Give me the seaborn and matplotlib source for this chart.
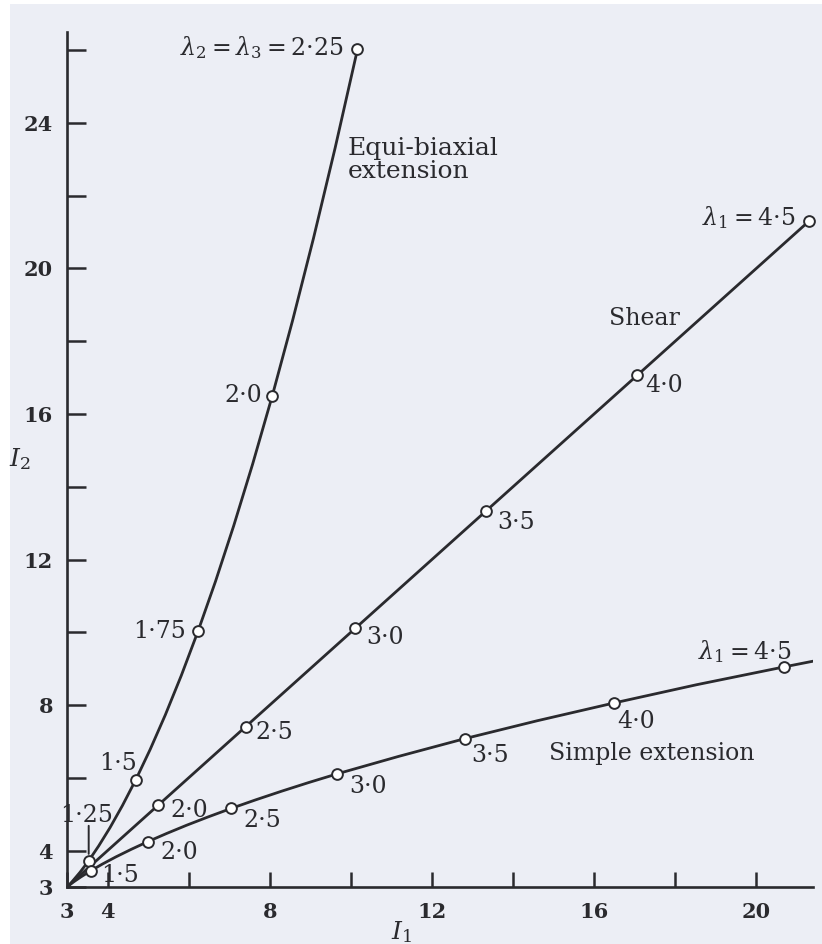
import matplotlib
matplotlib.use("Agg")
import matplotlib.pyplot as plt
from matplotlib.patches import Rectangle
import seaborn as sns

# ---- curves: I1, I2 invariants along each deformation path ----
equi_I1 = [3.0, 3.043, 3.103, 3.323, 3.535, 3.782, 4.061, 4.367, 4.698, 5.051,
           5.425, 5.819, 6.232, 6.663, 7.112, 7.579, 8.063, 8.563, 9.080, 9.614, 10.164]
equi_I2 = [3.0, 3.046, 3.117, 3.407, 3.721, 4.129, 4.632, 5.238, 5.951, 6.780,
           7.730, 8.812, 10.032, 11.401, 12.929, 14.625, 16.50, 18.566, 20.833, 23.316, 26.02]

shear_I1 = [3.0, 5.25, 7.41, 10.11, 13.33, 17.06, 21.30]
shear_I2 = [3.0, 5.25, 7.41, 10.11, 13.33, 17.06, 21.30]

simple_I1 = [3.0, 3.043, 3.163, 3.345, 3.583, 3.871, 4.205, 4.582, 5.0, 5.457,
             5.951, 6.483, 7.05, 7.653, 8.290, 8.961, 9.667, 11.18, 12.82,
             14.60, 16.5, 18.53, 20.69, 21.6]
simple_I2 = [3.0, 3.040, 3.140, 3.279, 3.444, 3.629, 3.827, 4.034, 4.25, 4.471,
             4.698, 4.927, 5.16, 5.395, 5.632, 5.871, 6.111, 6.59, 7.08,
             7.57, 8.06, 8.56, 9.05, 9.25]

# ---- marked stretch values ----
equi_pts_I1 = [3.535, 4.70, 6.23, 8.06, 10.16]
equi_pts_I2 = [3.72, 5.95, 10.03, 16.5, 26.02]
equi_labels = ["1·25", "1·5", "1·75", "2·0", r"$\lambda_2 = \lambda_3 = $2·25"]

shear_pts_I1 = [5.25, 7.41, 10.11, 13.33, 17.06, 21.30]
shear_pts_I2 = [5.25, 7.41, 10.11, 13.33, 17.06, 21.30]
shear_labels = ["2·0", "2·5", "3·0", "3·5", "4·0", r"$\lambda_1 = $4·5"]

simple_pts_I1 = [3.58, 5.0, 7.05, 9.67, 12.82, 16.5, 20.69]
simple_pts_I2 = [3.44, 4.25, 5.16, 6.11, 7.08, 8.06, 9.05]
simple_labels = ["1·5", "2·0", "2·5", "3·0", "3·5", "4·0", r"$\lambda_1 = $4·5"]

x_ticks = [3, 4, 6, 8, 10, 12, 14, 16, 18, 20]
x_ticklabels = ["3", "4", "", "8", "", "12", "", "16", "", "20"]
y_ticks = [3, 4, 6, 8, 10, 12, 14, 16, 18, 20, 22, 24, 26]
y_ticklabels = ["3", "4", "", "8", "", "12", "", "16", "", "20", "", "24", ""]

# ---- style ----
sns.set_theme(style="ticks")
plt.rcParams["font.family"] = ["DejaVu Serif"]
plt.rcParams["mathtext.fontset"] = "dejavuserif"

INK = "#2a2a2e"
PAPER = "#eceef5"

fig = plt.figure(figsize=(8.22, 9.44), dpi=100, facecolor="white")
fig.add_artist(Rectangle((10 / 822, 0), 1, 1 - 4 / 944, transform=fig.transFigure,
                         facecolor=PAPER, edgecolor="none", zorder=-10))
ax = fig.add_axes([67 / 822, 57 / 944, 746 / 822, 855 / 944])
ax.set_facecolor("none")

for xs, ys in [(equi_I1, equi_I2), (shear_I1, shear_I2), (simple_I1, simple_I2)]:
    sns.lineplot(x=xs, y=ys, sort=False, estimator=None, color=INK, lw=2.0, ax=ax)

for xs, ys in [(equi_pts_I1, equi_pts_I2), (shear_pts_I1, shear_pts_I2),
               (simple_pts_I1, simple_pts_I2)]:
    sns.scatterplot(x=xs, y=ys, marker="o", s=60, facecolor="white",
                    edgecolor=INK, linewidth=1.4, zorder=5, ax=ax, clip_on=False)

lab_kw = dict(textcoords="offset pixels", fontsize=17, color=INK, va="center")

# label offsets (pixels) and alignment per marker
equi_off = [(-2, 45, "center"), (1, 16, "right"), (-12, 0, "right"),
            (-10, 0, "right"), (-14, 2, "right")]
shear_off = [(12, -5, "left"), (10, -6, "left"), (11, -9, "left"),
             (11, -11, "left"), (8, -10, "left"), (-13, 4, "right")]
simple_off = [(11, -5, "left"), (12, -11, "left"), (12, -12, "left"),
              (12, -13, "left"), (6, -17, "left"), (3, -19, "left"), (7, 15, "right")]

for xs, ys, labels, offs in [
    (equi_pts_I1, equi_pts_I2, equi_labels, equi_off),
    (shear_pts_I1, shear_pts_I2, shear_labels, shear_off),
    (simple_pts_I1, simple_pts_I2, simple_labels, simple_off),
]:
    for x, y, lab, (dx, dy, ha) in zip(xs, ys, labels, offs):
        ax.annotate(lab, (x, y), xytext=(dx, dy), ha=ha, **lab_kw)

# leader line for the 1·25 label
ax.annotate("", (equi_pts_I1[0], equi_pts_I2[0]), xytext=(0, 35),
            textcoords="offset pixels",
            arrowprops=dict(arrowstyle="-", color=INK, lw=1.4, shrinkA=0, shrinkB=5))

ax.text(9.92, 22.97, "Equi-biaxial\nextension", fontsize=18, color=INK,
        ha="left", va="center", linespacing=1.0)
ax.text(16.37, 18.63, "Shear", fontsize=17, color=INK, ha="left", va="center")
ax.text(14.9, 6.68, "Simple extension", fontsize=17, color=INK, ha="left", va="center")

ax.set_xlim(3, 21.4)
ax.set_ylim(3, 26.5)
ax.set_xticks(x_ticks)
ax.set_xticklabels(x_ticklabels)
ax.set_yticks(y_ticks)
ax.set_yticklabels(y_ticklabels)
ax.tick_params(axis="x", direction="in", length=11, width=1.8, colors=INK,
               labelsize=15, pad=11)
ax.tick_params(axis="y", direction="in", length=14, width=1.8, colors=INK,
               labelsize=15, pad=10)
for lab in ax.get_xticklabels() + ax.get_yticklabels():
    lab.set_fontweight("bold")

sns.despine(ax=ax)
for side in ["left", "bottom"]:
    ax.spines[side].set_color(INK)
    ax.spines[side].set_linewidth(1.9)

ax.set_xlabel(r"$I_1$", fontsize=18, color=INK)
ax.xaxis.set_label_coords(0.448, -0.053)
ax.xaxis.label.set_va("center")
ax.set_ylabel(r"$I_2$", fontsize=18, color=INK, rotation=0)
ax.yaxis.set_label_coords(-0.063, 0.50)
ax.yaxis.label.set_va("center")
ax.yaxis.label.set_ha("center")

fig.savefig("out.png", dpi=100, facecolor=fig.get_facecolor())
